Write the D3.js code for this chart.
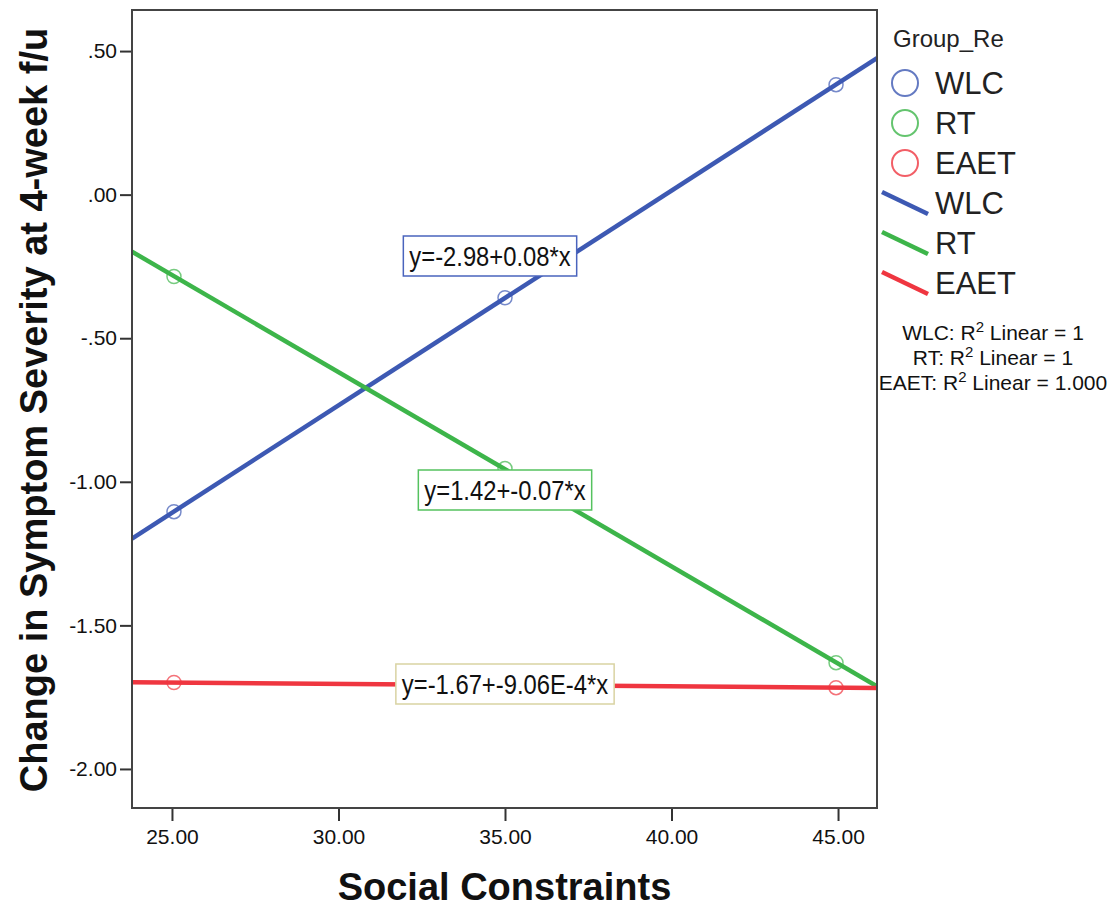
<!DOCTYPE html>
<html>
<head>
<meta charset="utf-8">
<script src="https://cdn.jsdelivr.net/npm/d3@7"></script>
<style>
  body { margin: 0; background: #fff; }
  svg { display: block; font-family: "Liberation Sans", Arial, sans-serif; }
</style>
</head>
<body>
<svg id="chart"></svg>
<script>
// data
const groups = ["WLC", "RT", "EAET"];
const socialX = [25.06, 35.0, 44.94];
const wlcY = [-1.104, -0.359, 0.383];
const rtY = [-0.285, -0.954, -1.630];
const eaetY = [-1.699, -1.708, -1.717];
const equations = ["y=-2.98+0.08*x", "y=1.42+-0.07*x", "y=-1.67+-9.06E-4*x"];
const rSquared = ["1", "1", "1.000"];
const xTicks = [25, 30, 35, 40, 45];
const yTicks = [0.5, 0, -0.5, -1, -1.5, -2];

const colors = ["#3d59b3", "#3db54a", "#ef3640"];
const boxColors = ["#4a64bd", "#55c25f", "#d9d3a3"];

const W = 1117, H = 908;
const margin = {top: 10, right: 240, bottom: 100, left: 132};

const svg = d3.select("#chart").attr("width", W).attr("height", H);

const xScale = d3.scaleLinear().domain([23.8, 46.17]).range([margin.left, W - margin.right]);
const yScale = d3.scaleLinear().domain([-2.136, 0.643]).range([H - margin.bottom, margin.top]);

const series = [wlcY, rtY, eaetY].map((ys, i) => {
  const pts = socialX.map((x, j) => ({x: x, y: ys[j]}));
  // least squares fit
  const mx = d3.mean(pts, d => d.x), my = d3.mean(pts, d => d.y);
  const b = d3.sum(pts, d => (d.x - mx) * (d.y - my)) / d3.sum(pts, d => (d.x - mx) ** 2);
  return {name: groups[i], pts: pts, a: my - b * mx, b: b, color: colors[i]};
});

svg.append("clipPath").attr("id", "plotclip")
  .append("rect")
  .attr("x", margin.left).attr("y", margin.top)
  .attr("width", W - margin.left - margin.right)
  .attr("height", H - margin.top - margin.bottom);

// axes, SPSS style labels without the leading zero
const fmt = v => d3.format(".2f")(v).replace("\u2212", "-").replace(/^(-?)0\./, "$1.");

svg.append("g")
  .attr("transform", `translate(${margin.left},0)`)
  .call(d3.axisLeft(yScale).tickValues(yTicks).tickFormat(fmt).tickSizeInner(12).tickSizeOuter(0).tickPadding(3))
  .call(g => g.select(".domain").remove())
  .call(g => g.selectAll("line").attr("stroke", "#333").attr("stroke-width", 2))
  .call(g => g.selectAll("text").attr("font-size", 21).attr("fill", "#111").attr("font-family", "Liberation Sans"));

svg.append("g")
  .attr("transform", `translate(0,${H - margin.bottom})`)
  .call(d3.axisBottom(xScale).tickValues(xTicks).tickFormat(fmt).tickSizeInner(13).tickSizeOuter(0).tickPadding(8))
  .call(g => g.select(".domain").remove())
  .call(g => g.selectAll("line").attr("stroke", "#333").attr("stroke-width", 2))
  .call(g => g.selectAll("text").attr("font-size", 21).attr("fill", "#111").attr("font-family", "Liberation Sans"));

// fit lines
const plot = svg.append("g").attr("clip-path", "url(#plotclip)");
const x0 = xScale.domain()[0], x1 = xScale.domain()[1];
plot.selectAll("line.fit")
  .data(series)
  .join("line")
  .attr("class", "fit")
  .attr("x1", xScale(x0)).attr("x2", xScale(x1))
  .attr("y1", d => yScale(d.a + d.b * x0))
  .attr("y2", d => yScale(d.a + d.b * x1))
  .attr("stroke", d => d.color)
  .attr("stroke-width", 4.5);

// points
plot.selectAll("g.pts")
  .data(series)
  .join("g")
  .attr("class", "pts")
  .selectAll("circle")
  .data(d => d.pts.map(p => ({...p, color: d.color})))
  .join("circle")
  .attr("cx", d => xScale(d.x))
  .attr("cy", d => yScale(d.y))
  .attr("r", 7)
  .attr("fill", "none")
  .attr("stroke", d => d.color)
  .attr("stroke-opacity", 0.7)
  .attr("stroke-width", 1.5);

// equation labels (centre positions in pixels), text squeezed sideways like the original
const labelPos = [[490, 256], [505, 490], [505, 684]];
const squeeze = 0.85;
equations.forEach((eq, i) => {
  const g = svg.append("g")
    .attr("transform", `translate(${labelPos[i][0]},${labelPos[i][1]}) scale(${squeeze},1)`);
  const rect = g.append("rect");
  const t = g.append("text")
    .attr("dy", "0.36em")
    .attr("text-anchor", "middle")
    .attr("font-size", 28)
    .attr("fill", "#111")
    .text(eq);
  const bb = t.node().getBBox();
  const pad = 6 / squeeze;
  rect.attr("x", bb.x - pad).attr("y", -20)
    .attr("width", bb.width + 2 * pad).attr("height", 40)
    .attr("fill", "#fff")
    .attr("stroke", boxColors[i])
    .attr("stroke-width", 1.5)
    .attr("vector-effect", "non-scaling-stroke");
});

// frame
svg.append("rect")
  .attr("x", margin.left).attr("y", margin.top)
  .attr("width", W - margin.left - margin.right)
  .attr("height", H - margin.top - margin.bottom)
  .attr("fill", "none")
  .attr("stroke", "#444")
  .attr("stroke-width", 2);

// axis titles
svg.append("text")
  .attr("x", (margin.left + W - margin.right) / 2)
  .attr("y", 900)
  .attr("text-anchor", "middle")
  .attr("font-size", 38).attr("font-weight", "bold").attr("fill", "#111")
  .text("Social Constraints");

svg.append("text")
  .attr("transform", "translate(47,410) rotate(-90)")
  .attr("text-anchor", "middle")
  .attr("font-size", 38).attr("font-weight", "bold").attr("fill", "#111")
  .text("Change in Symptom Severity at 4-week f/u");

// legend
const leg = svg.append("g");
leg.append("text").attr("x", 893).attr("y", 47).attr("font-size", 24).attr("fill", "#222").text("Group_Re");

const rowY = i => 83 + i * 40;
groups.forEach((name, i) => {
  leg.append("circle").attr("cx", 905).attr("cy", rowY(i)).attr("r", 13)
    .attr("fill", "none").attr("stroke", colors[i]).attr("stroke-opacity", 0.8).attr("stroke-width", 2);
  leg.append("text").attr("x", 935).attr("y", rowY(i)).attr("dy", "0.37em")
    .attr("font-size", 31).attr("fill", "#222").text(name);

  const ly = rowY(i + 3);
  leg.append("line").attr("x1", 882).attr("y1", ly - 11).attr("x2", 928).attr("y2", ly + 11)
    .attr("stroke", colors[i]).attr("stroke-width", 4.5);
  leg.append("text").attr("x", 935).attr("y", ly).attr("dy", "0.37em")
    .attr("font-size", 31).attr("fill", "#222").text(name);
});

// R squared notes
rSquared.forEach((r, i) => {
  const t = leg.append("text")
    .attr("x", 993).attr("y", 340 + i * 25)
    .attr("text-anchor", "middle")
    .attr("font-size", 21).attr("fill", "#111");
  t.append("tspan").text(groups[i] + ": R");
  t.append("tspan").attr("dy", -8).attr("font-size", 15).text("2");
  t.append("tspan").attr("dy", 8).text(" Linear = " + r);
});
</script>
</body>
</html>
